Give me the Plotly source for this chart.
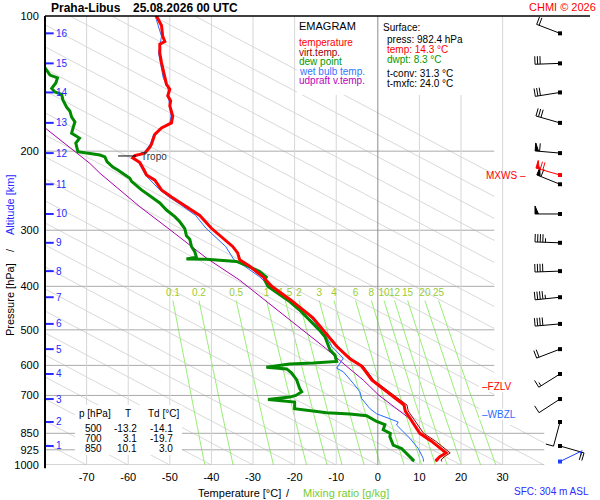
import math

import numpy as np
import plotly.graph_objects as go

# Praha-Libus sounding, 25.08.2026 00 UTC
temp_p = [100, 105, 111, 114, 115.5, 121, 127, 137, 142, 145.5, 150.5, 154.5, 158.5, 167, 173,
          177.5, 183.5, 193, 196, 202, 204.5, 207, 212, 222, 226, 232, 244, 253, 264, 278,
          297, 312, 326, 337, 349, 361, 381, 400, 430, 470, 500, 518, 544, 580, 602,
          647, 673, 700, 735, 758, 794, 835, 850, 885, 926, 940, 958, 975, 982.4]
temp_c = [-53.2, -52.0, -51.7, -51.2, -52.4, -52.4, -52.0, -51.2, -50.8, -50.0, -50.5, -49.8, -50.0, -49.3, -49.6,
          -52.0, -53.6, -54.4, -54.8, -56.0, -58.4, -58.9, -57.2, -56.0, -55.6, -53.6, -52.0, -49.6, -46.4, -42.8,
          -40.0, -37.3, -34.9, -33.7, -33.2, -30.8, -27.6, -25.5, -20.8, -15.6, -13.2, -12.0, -9.9, -6.7, -3.9,
          -1.4, 1.0, 3.1, 6.3, 6.6, 8.0, 9.7, 10.1, 12.9, 15.4, 16.4, 14.9, 14.1, 14.3]
virt_c = [-53.2, -52.0, -51.7, -51.2, -52.4, -52.4, -52.0, -51.2, -50.8, -50.0, -50.5, -49.8, -50.0, -49.3, -49.6,
          -52.0, -53.6, -54.4, -54.8, -56.0, -58.4, -58.9, -57.2, -56.0, -55.6, -53.6, -52.0, -49.6, -46.4, -42.8,
          -40.0, -37.3, -34.9, -33.7, -33.2, -30.8, -27.6, -25.4, -20.7, -15.5, -13.0, -11.8, -9.6, -6.4, -3.5,
          -1.0, 1.5, 3.7, 7.0, 7.3, 8.8, 10.6, 11.0, 13.9, 16.4, 17.4, 16.0, 15.2, 15.4]

dewp_p = [130.5, 135.4, 137.4, 141, 145, 147.6, 149.5, 153.8, 159.6, 163, 168, 172.2, 176.7, 182.4, 187,
          191.9, 200.5, 202.3, 204, 206, 211, 217, 220.3, 229.7, 233.5, 244, 254.7, 260.8, 270.5, 279.8,
          287.3, 297.6, 308.6, 314.1, 326, 335, 344.6, 347.7, 348, 352, 359.3, 371, 381.6, 387.3, 400.3,
          417.6, 432.5, 451.6, 467.7, 500, 518, 540, 554.5, 569, 588, 593, 596, 606, 611,
          624, 646.6, 675, 687, 700, 706, 715, 724, 749, 754, 764.6, 769.6, 777, 800,
          813, 835, 850, 865, 903, 919, 960, 975, 982.4]
dewp_c = [-80.0, -78.8, -77.0, -77.4, -78.4, -77.6, -76.0, -75.7, -74.8, -74.0, -73.6, -72.8, -73.2, -73.6, -71.7,
          -72.6, -72.1, -69.7, -66.8, -65.6, -65.1, -63.7, -62.5, -59.6, -59.2, -56.8, -54.0, -52.4, -50.8, -48.8,
          -47.6, -46.4, -46.0, -45.2, -44.8, -44.0, -43.6, -46.0, -41.2, -34.0, -31.6, -28.4, -26.8, -27.2, -26.4,
          -23.6, -21.2, -18.8, -17.1, -14.1, -12.7, -11.9, -11.5, -10.3, -9.9, -15.5, -21.2, -26.8, -21.9,
          -20.7, -19.5, -18.8, -18.3, -19.7, -21.2, -26.4, -20.0, -20.0, -17.5, -12.3, -6.7, -2.7, -0.3,
          1.7, 1.3, 3.0, 2.9, 3.7, 5.7, 7.7, 8.5, 8.3]

wetb_p = [100, 111, 121, 137, 145.5, 154.5, 167, 173, 183.5, 193, 202, 207, 212, 226, 244,
          253, 264, 278, 297, 312, 326, 337, 349, 361, 381, 400, 430, 470, 500, 518,
          544, 569, 578.5, 608.5, 620, 658, 687, 711, 749, 769, 789, 802, 814.6, 829, 872,
          918, 966, 982.4]
wetb_c = [-53.5, -52.0, -52.7, -51.6, -50.4, -50.2, -49.7, -50.0, -53.9, -54.7, -56.3, -59.1, -57.5, -55.9, -52.4,
          -50.2, -47.2, -43.8, -41.3, -38.8, -36.6, -35.6, -34.6, -32.0, -28.4, -26.0, -21.0, -16.0, -13.6, -12.4,
          -11.1, -9.1, -8.3, -9.9, -8.3, -5.9, -4.3, -3.9, -1.9, -0.3, 2.9, 4.9, 4.5, 5.3, 7.7,
          9.7, 10.9, 11.0]

parcel_p = [177.5, 213, 224, 266, 305, 346, 387, 471, 500, 549, 606, 647, 700, 749, 794]
parcel_c = [-80.0, -69.2, -66.8, -57.2, -48.8, -41.2, -33.3, -21.6, -18.3, -12.6, -7.2, -3.5, 0.3, 4.4, 8.1]

# altitude scale (km ASL) and the winds plotted at those heights
alt_km = list(range(1, 17))
alt_p = [907, 802, 713, 627, 552, 485, 423, 370, 320, 276, 237, 202, 173, 148, 127.5, 109.3]
wind_dir = [106, 195, 237, 238, 249, 265, 264, 268, 272, 270, 292, 275, 286, 261, 268, 291]
wind_kt = [20, 10, 10, 15, 20, 40, 45, 40, 45, 50, 60, 60, 30, 30, 30, 20]
mxws_p, mxws_dir, mxws_kt = 226, 286, 70
sfc_p, sfc_dir, sfc_kt = 982.4, 64, 5

tropo_p = 205
fzlv_p = 667
wbzl_p = 770

surface_press = 982.4
surface_temp = 14.3
surface_dwpt = 8.3
t_conv = 31.3
t_mxfc = 24.0

table_p = [500, 700, 850]
table_t = [-13.2, 3.1, 10.1]
table_td = [-14.1, -19.7, 3.0]

mix_ratios = [0.1, 0.2, 0.5, 1, 1.5, 2, 3, 4, 6, 8, 10, 12, 15, 20, 25]
isotherms = list(range(-70, 40, 10))
pressure_levels = [100, 200, 300, 400, 500, 600, 700, 850, 925, 1000]

# geometry of the plot box (pixels)
L, R, TOP, BOT = 45, 10, 16, 35
PW, PH = 600 - L - R, 500 - TOP - BOT
X0, X1 = -80, 51
PX = PW / (X1 - X0)   # px per degC
PY = PH               # px per decade of pressure
ADIABAT_SLOPE = 204   # degC per decade of pressure, as drawn on the chart

RED = "#ff0000"
DARKRED = "#a00000"
GREEN = "#008a00"
BLUE = "#2a6cff"
PURPLE = "#aa00aa"
ALT_BLUE = "#2828ff"
MIX_GREEN = "#99ee77"
MIX_LABEL = "#99cc33"


def t_at(px):
    return X0 + (px - L) / PX


def paper(px, py):
    return (px - L) / PW, (TOP + PH - py) / PH


def mix_temp(w, p):
    e = w * p / (622 + w)
    a = math.log(e / 6.112)
    return 243.5 * a / (17.67 - a)


def note(px, py, text, color="black", size=10, xanchor="left", **kw):
    x, y = paper(px, py)
    return dict(x=x, y=y, xref="paper", yref="paper", text=text, showarrow=False, borderpad=0,
                xanchor=xanchor, yanchor="middle", font=dict(size=size, color=color), **kw)


def box(px0, py0, px1, py1):
    x0, y0 = paper(px0, py1)
    x1, y1 = paper(px1, py0)
    return dict(type="rect", xref="paper", yref="paper", x0=x0, x1=x1, y0=y0, y1=y1,
                fillcolor="white", line=dict(width=0), layer="above")


STAFF, BARB, GAP, FLAG = 25.0, 8.0, 2.6, 3.5
T_ST = t_at(560)


def barb(p0, wdir, speed):
    a = math.radians(wdir)
    ux, uy = math.sin(a), -math.cos(a)
    vx, vy = -uy, ux
    segs = [[(0, 0), (STAFF * ux, STAFF * uy)]]
    flags = []
    n50, rest = divmod(int(speed), 50)
    n10, rest = divmod(rest, 10)
    n5 = rest // 5
    pos = STAFF
    for _ in range(n50):
        flags.append([(pos * ux, pos * uy), (pos * ux + BARB * vx, pos * uy + BARB * vy),
                      ((pos - FLAG) * ux, (pos - FLAG) * uy)])
        pos -= FLAG + 1.0
    for _ in range(n10):
        segs.append([(pos * ux, pos * uy), (pos * ux + BARB * vx, pos * uy + BARB * vy)])
        pos -= GAP
    if n5:
        if pos == STAFF:
            pos -= GAP
        segs.append([(pos * ux, pos * uy), (pos * ux + 0.5 * BARB * vx, pos * uy + 0.5 * BARB * vy)])

    def to_data(parts):
        xs, ys = [], []
        for part in parts:
            for dx, dy in part:
                xs.append(T_ST + dx / PX)
                ys.append(p0 * 10 ** (dy / PY))
            xs.append(None)
            ys.append(None)
        return xs, ys

    return to_data(segs), to_data(flags)


fig = go.Figure()


def line_trace(x, y, color, width=1, **kw):
    fig.add_trace(go.Scatter(x=x, y=y, mode="lines", line=dict(color=color, width=width),
                             hoverinfo="skip", **kw))


# dry adiabats (light diagonals)
ax, ay = [], []
for t0 in range(-80, 170, 10):
    p_hi = 1000.0
    if t0 > 40:
        p_hi = 1000 / 10 ** ((t0 - 40) / ADIABAT_SLOPE)
    if p_hi <= 100:
        continue
    for p in (100, p_hi):
        ax.append(t0 - ADIABAT_SLOPE * math.log10(1000 / p))
        ay.append(p)
    ax.append(None)
    ay.append(None)
line_trace(ax, ay, "#d9d9d9")

# mixing ratio lines
mx, my = [], []
grid_p = np.linspace(430, 1000, 30)
for w in mix_ratios:
    mx += [mix_temp(w, p) for p in grid_p] + [None]
    my += list(grid_p) + [None]
line_trace(mx, my, MIX_GREEN)

# isobars
ix, iy = [], []
for p in pressure_levels[1:]:
    ix += [X0, 40, None]
    iy += [p, p, None]
line_trace(ix, iy, "#aaaaaa")

# blank area behind the wind barbs
fig.add_trace(go.Scatter(x=[28, X1, X1, 28, 28], y=[100, 100, 815, 815, 100], mode="lines",
                         fill="toself", fillcolor="white", line=dict(width=0), hoverinfo="skip"))

# isotherms
vx_, vy_ = [], []
for t in isotherms:
    if t == 0:
        continue
    vx_ += [t, t, None]
    vy_ += [100, 1000, None]
line_trace(vx_, vy_, "#d6d6d6")
line_trace([0, 0], [100, 1000], "#8c8c8c")

# mixing ratio labels
fig.add_trace(go.Scatter(x=[mix_temp(w, 430) for w in mix_ratios], y=[416] * len(mix_ratios),
                         mode="text", text=[f"{w:g}" for w in mix_ratios],
                         textfont=dict(size=10, color=MIX_LABEL), hoverinfo="skip"))

# profiles
line_trace(parcel_c, parcel_p, PURPLE, 1)
line_trace(wetb_c, wetb_p, BLUE, 1)
line_trace(dewp_c, dewp_p, GREEN, 3)
line_trace(virt_c, temp_p, DARKRED, 1)
line_trace(temp_c, temp_p, RED, 3)

# tropopause marker
line_trace([t_at(118), t_at(136)], [tropo_p, tropo_p], "black", 1)

# altitude ticks
fig.add_trace(go.Scatter(x=[t_at(49.5)] * len(alt_p), y=alt_p, mode="markers",
                         marker=dict(symbol="line-ew", size=6, line=dict(width=2, color=ALT_BLUE)),
                         hoverinfo="skip"))

# wind barbs
for p, d, s in zip(alt_p, wind_dir, wind_kt):
    (lx, ly), (fx, fy) = barb(p, d, s)
    line_trace(lx, ly, "black", 1)
    if fx:
        fig.add_trace(go.Scatter(x=fx, y=fy, mode="lines", fill="toself", fillcolor="black",
                                 line=dict(color="black", width=1), hoverinfo="skip"))
fig.add_trace(go.Scatter(x=[T_ST] * len(alt_p), y=alt_p, mode="markers",
                         marker=dict(symbol="square", size=4, color="black"), hoverinfo="skip"))
for p, d, s, c in [(mxws_p, mxws_dir, mxws_kt, RED), (sfc_p, sfc_dir, sfc_kt, "#1f3fff")]:
    (lx, ly), (fx, fy) = barb(p, d, s)
    line_trace(lx, ly, c, 1)
    if fx:
        fig.add_trace(go.Scatter(x=fx, y=fy, mode="lines", fill="toself", fillcolor=c,
                                 line=dict(color=c, width=1), hoverinfo="skip"))
    fig.add_trace(go.Scatter(x=[T_ST], y=[p], mode="markers",
                             marker=dict(symbol="square", size=4, color=c), hoverinfo="skip"))


def ypx(p):
    return TOP + (math.log10(p) - 2) * PY


shapes = [
    box(297, 16, 377, 95),
    box(379.5, 16, 470, 95),
    box(75, 405, 182, 455),
    box(479, ypx(fzlv_p) - 6, 523, ypx(fzlv_p) + 6),
    box(479, ypx(wbzl_p) - 5.5, 523, ypx(wbzl_p) + 5.5),
    dict(type="line", xref="paper", yref="paper", x0=0, x1=1, y0=1, y1=1,
         line=dict(color="black", width=1.5), layer="above"),
    dict(type="line", xref="paper", yref="paper", x0=0, x1=0, y0=-0.007, y1=1,
         line=dict(color="black", width=2), layer="above"),
]

ann = [
    note(50, 8, "<b>Praha-Libus</b>", size=12),
    note(131.5, 8, "<b>25.08.2026 00 UTC</b>", size=12),
    note(597, 7, "CHMI © 2026", color=RED, size=11, xanchor="right"),
    note(590, 491, "SFC: 304 m ASL", color="#2b2bff", size=10, xanchor="right"),
    note(196.5, 493, "Temperature [°C]", size=11),
    note(288, 493, "/", size=11, xanchor="center"),
    note(301.5, 493, "Mixing ratio [g/kg]", color="#77cc33", size=11),
    note(10, 300, "Pressure [hPa]", size=11, xanchor="center", textangle=-90),
    note(10, 250, "/", size=11, xanchor="center", textangle=-90),
    note(10, 205, "Altitude [km]", color=ALT_BLUE, size=11, xanchor="center", textangle=-90),
    note(140, ypx(tropo_p) + 1, "Tropo", color="#333333", size=10),
    note(480.5, ypx(fzlv_p), "–FZLV", color=RED, size=10),
    note(480.5, ypx(wbzl_p), "–WBZL", color=BLUE, size=10),
    note(527, ypx(mxws_p) + 1, "MXWS –", color=RED, size=10, xanchor="right"),
    # legend
    note(297.5, 26, "EMAGRAM", size=11),
    note(297.5, 42.3, "temperature", color=RED),
    note(297.5, 52, "virt.temp.", color=DARKRED),
    note(297.5, 61.7, "dew point", color="#009900"),
    note(297.5, 71.3, "wet bulb temp.", color="#3377ff"),
    note(297.5, 81, "udpraft v.temp.", color="#bb00bb"),
    # surface box
    note(381.5, 27.3, "Surface:"),
    note(386, 39.7, f"press: {surface_press:.1f} hPa"),
    note(386, 49.7, f"temp: {surface_temp:.1f} °C", color=RED),
    note(386, 59.3, f"dwpt: {surface_dwpt:.1f} °C", color="#009900"),
    note(386, 73.3, f"t-conv: {t_conv:.1f} °C"),
    note(386, 83, f"t-mxfc: {t_mxfc:.1f} °C"),
    # table
    note(77.5, 413.3, "p [hPa]"),
    note(127.5, 413.3, "T", xanchor="center"),
    note(146.5, 413.3, "Td [°C]"),
]
for i, (p, t, td) in enumerate(zip(table_p, table_t, table_td)):
    y = 428.3 + 10 * i
    ann.append(note(102.5, y, f"{p}", xanchor="right"))
    ann.append(note(137.5, y, f"{t:.1f}", xanchor="right"))
    ann.append(note(174, y, f"{td:.1f}", xanchor="right"))
for km, p in zip(alt_km, alt_p):
    ann.append(note(54.5, ypx(p), str(km), color=ALT_BLUE))

fig.update_layout(
    width=600, height=500,
    margin=dict(l=L, r=R, t=TOP, b=BOT),
    plot_bgcolor="white", paper_bgcolor="white",
    showlegend=False,
    font=dict(family="Liberation Sans, Arial, sans-serif", size=11, color="black"),
    xaxis=dict(range=[X0, X1], showgrid=False, zeroline=False, showline=False,
               tickvals=isotherms, ticktext=[str(t) for t in isotherms],
               ticks="outside", ticklen=2, tickcolor="rgba(0,0,0,0)",
               tickfont=dict(size=11), automargin=False),
    yaxis=dict(type="log", range=[3, 2], showgrid=False, zeroline=False, showline=False,
               tickvals=pressure_levels, ticktext=[str(p) for p in pressure_levels],
               ticks="outside", ticklen=3, tickcolor="rgba(0,0,0,0)",
               tickfont=dict(size=11), automargin=False),
    shapes=shapes,
    annotations=ann,
)

fig.write_html("out.html", config={"displayModeBar": False},
               post_script="document.body.style.margin = '0px';")
